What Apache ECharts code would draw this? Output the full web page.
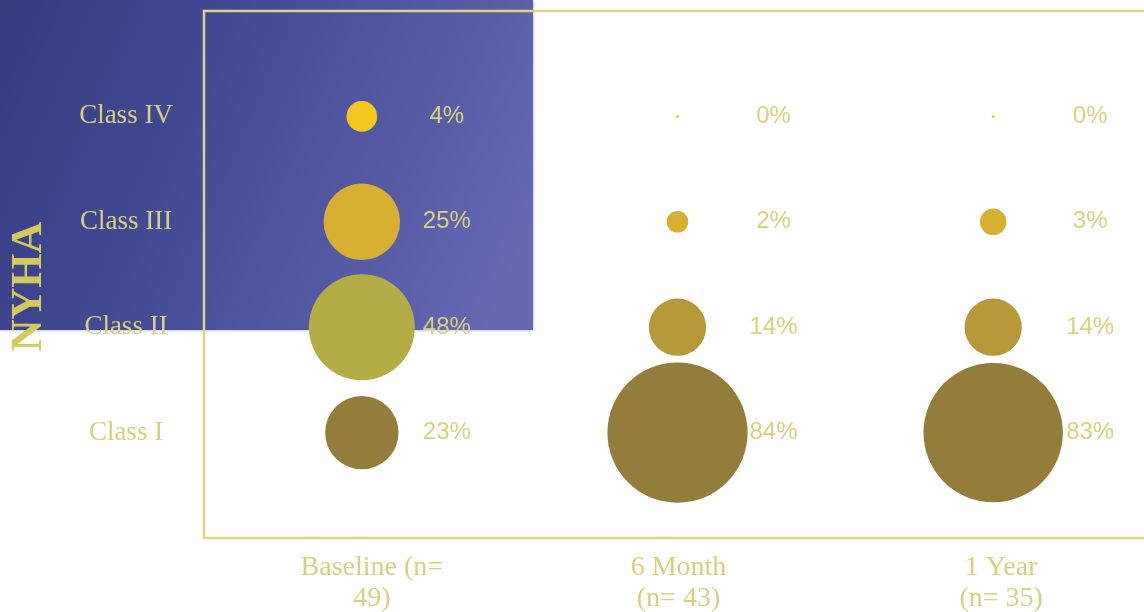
<!DOCTYPE html>
<html>
<head>
<meta charset="utf-8">
<script src="https://cdn.jsdelivr.net/npm/echarts@6/dist/echarts.min.js"></script>
<style>
  html, body { margin: 0; padding: 0; background: #ffffff; }
  #chart { width: 1144px; height: 612px; }
</style>
</head>
<body>
<div id="chart"></div>
<script>
// NYHA functional class distribution at each follow-up point (percent of patients)
const periods = ['Baseline (n=\n49)', '6 Month\n(n= 43)', '1 Year\n(n= 35)'];
const classes = ['Class I', 'Class II', 'Class III', 'Class IV'];
const baseline = [23, 48, 25, 4];
const sixMonth = [84, 14, 2, 0];
const oneYear = [83, 14, 3, 0];

// bubble fill per class (Class I .. Class IV)
const classColors = ['#947c3a', '#b8993a', '#d7b032', '#f2c81f'];
const baselineClassII = '#b4ad46';

const seriesValues = [baseline, sixMonth, oneYear];
const labelShift = [85, 96, 97];
const periodLabelPad = [20, 2, 16];

function bubbleSize(v) {
  // bubble area proportional to the percentage
  return v > 0 ? 15.3 * Math.sqrt(v) : 3;
}

const series = seriesValues.map(function (values, p) {
  return {
    type: 'scatter',
    data: values.map(function (v, c) {
      const color = (p === 0 && c === 1) ? baselineClassII : classColors[c];
      return {
        value: [p, c + 1, v],
        itemStyle: { color: color }
      };
    }),
    symbolSize: function (d) { return bubbleSize(d[2]); },
    itemStyle: { opacity: 1 },
    label: {
      show: true,
      position: 'inside',
      offset: [labelShift[p], 0],
      formatter: function (d) { return d.value[2] + '%'; },
      color: '#d9d27c',
      fontFamily: 'Liberation Sans',
      fontSize: 24
    },
    emphasis: { disabled: true },
    silent: true,
    z: 3
  };
});

const chart = echarts.init(document.getElementById('chart'), null, { renderer: 'canvas' });
chart.setOption({
  animation: false,
  backgroundColor: '#ffffff',
  graphic: [{
    type: 'rect',
    left: 0,
    top: 0,
    shape: { width: 533, height: 330 },
    z: -10,
    style: {
      fill: new echarts.graphic.LinearGradient(0, 0, 1, 0.7, [
        { offset: 0, color: '#343c80' },
        { offset: 0.45, color: '#454c98' },
        { offset: 1, color: '#6668b2' }
      ]),
      shadowBlur: 3,
      shadowColor: 'rgba(90,95,170,0.6)'
    },
    silent: true
  }],
  grid: {
    show: true,
    left: 204,
    top: 11,
    width: 947,
    height: 527,
    outerBoundsMode: 'none',
    containLabel: false,
    borderColor: '#ddd488',
    borderWidth: 2.5,
    backgroundColor: 'transparent'
  },
  xAxis: {
    type: 'category',
    data: periods.map(function (name, i) {
      return { value: name, textStyle: { padding: [0, 0, 0, periodLabelPad[i]] } };
    }),
    boundaryGap: true,
    axisLine: { show: false },
    axisTick: { show: false },
    splitLine: { show: false },
    axisLabel: {
      color: '#d8d07e',
      fontFamily: 'Liberation Serif',
      fontSize: 28,
      lineHeight: 31,
      margin: 14,
      interval: 0
    }
  },
  yAxis: {
    type: 'value',
    min: 0,
    max: 5,
    interval: 1,
    name: 'NYHA',
    nameLocation: 'middle',
    nameRotate: 90,
    nameGap: 152,
    nameTextStyle: {
      color: '#d3ca5c',
      fontFamily: 'Liberation Serif',
      fontWeight: 'bold',
      fontSize: 44,
      padding: [0, 24, 0, 0]
    },
    axisLine: { show: false },
    axisTick: { show: false },
    splitLine: { show: false },
    axisLabel: {
      color: '#d8d07e',
      fontFamily: 'Liberation Serif',
      fontSize: 27,
      align: 'center',
      margin: 78,
      formatter: function (v) { return classes[v - 1] || ''; }
    }
  },
  series: series
});
</script>
</body>
</html>
